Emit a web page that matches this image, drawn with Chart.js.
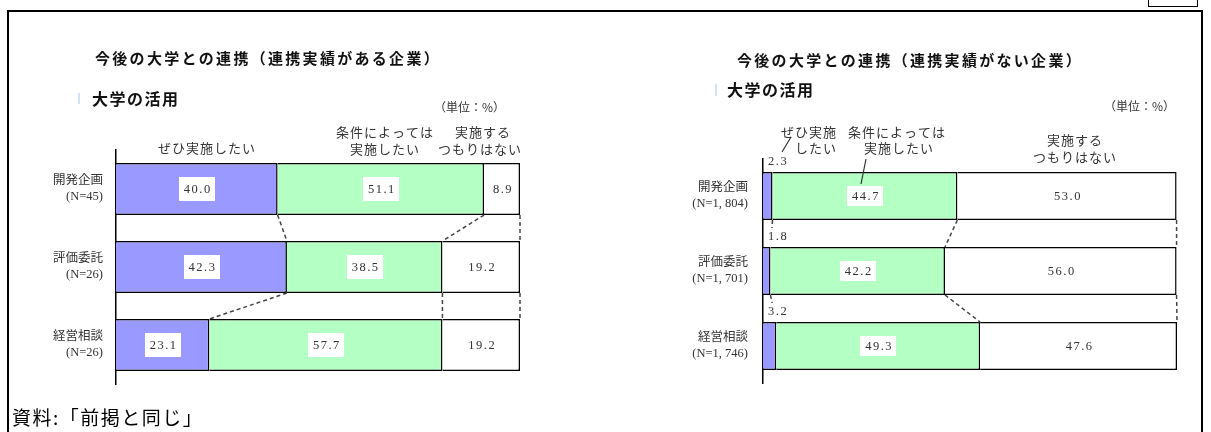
<!DOCTYPE html>
<html lang="ja">
<head>
<meta charset="utf-8">
<script src="https://cdn.jsdelivr.net/npm/chart.js@4.4.1/dist/chart.umd.min.js"></script>
<style>
  html, body { margin: 0; padding: 0; background: #fff; }
  #page { position: relative; width: 1211px; height: 432px; overflow: hidden; background: #fff; }
  #page canvas { position: absolute; top: 0; }
  #cLeft { left: 0; }
  #cRight { left: 600px; }
  .frame { position: absolute; left: 7px; top: 10px; width: 1196px; height: 460px; border: 2px solid #000; box-sizing: border-box; pointer-events: none; }
  .tag { position: absolute; left: 1148px; top: -4px; width: 50px; height: 11px; border: 1.5px solid #000; box-sizing: border-box; }
  .src { position: absolute; left: 12px; top: 405px; font: 19px "Noto Sans CJK JP", sans-serif; letter-spacing: 1.5px; color: #000; line-height: 24px; white-space: nowrap; }
</style>
</head>
<body>
<div id="page">
  <canvas id="cLeft" width="600" height="432"></canvas>
  <canvas id="cRight" width="611" height="432"></canvas>
  <div class="frame"></div>
  <div class="tag"></div>
  <div class="src">資料:「前掲と同じ」</div>
</div>
<script>
// ---- data ----
const seriesNames = ['ぜひ実施したい', '条件によっては実施したい', '実施するつもりはない'];

const leftCategories = [['開発企画', '(N=45)'], ['評価委託', '(N=26)'], ['経営相談', '(N=26)']];
const leftDefinitely = [40.0, 42.3, 23.1];
const leftConditional = [51.1, 38.5, 57.7];
const leftNoPlan = [8.9, 19.2, 19.2];

const rightCategories = [['開発企画', '(N=1, 804)'], ['評価委託', '(N=1, 701)'], ['経営相談', '(N=1, 746)']];
const rightDefinitely = [2.3, 1.8, 3.2];
const rightConditional = [44.7, 42.2, 49.3];
const rightNoPlan = [53.0, 56.0, 47.6];

const segColors = ['#9999ff', '#b3ffc4', '#ffffff'];
const inkColor = '#333';
const jpFont = '"Noto Sans CJK JP", sans-serif';
const numFont = '"Liberation Serif", "Noto Sans CJK JP", serif';

// ---- plugins ----
// Static captions for a panel (coordinates in the canvas' own space)
const panelText = {
  id: 'panelText',
  afterDraw(chart, args, opts) {
    const ctx = chart.ctx;
    ctx.save();
    (opts.lines || []).forEach(l => {
      ctx.beginPath();
      ctx.setLineDash([]);
      ctx.strokeStyle = l.color || '#333';
      ctx.lineWidth = l.width || 1.2;
      ctx.moveTo(l.x1, l.y1);
      ctx.lineTo(l.x2, l.y2);
      ctx.stroke();
    });
    (opts.items || []).forEach(t => {
      ctx.font = t.font;
      ctx.fillStyle = t.color || inkColor;
      ctx.textAlign = t.align || 'left';
      ctx.textBaseline = 'middle';
      ctx.letterSpacing = (t.ls || 0) + 'px';
      ctx.fillText(t.text, t.x, t.y);
    });
    ctx.restore();
  }
};

// Dashed links between stacked bars and the value boxes on each segment
const segLabels = {
  id: 'segLabels',
  afterDatasetsDraw(chart, args, opts) {
    const ctx = chart.ctx;
    const n = chart.data.labels.length;
    const metas = chart.data.datasets.map((d, i) => chart.getDatasetMeta(i));
    ctx.save();
    ctx.setLineDash([4, 3]);
    ctx.strokeStyle = '#444';
    ctx.lineWidth = 1.5;
    for (let j = 0; j < n - 1; j++) {
      metas.forEach(m => {
        const a = m.data[j], b = m.data[j + 1];
        ctx.beginPath();
        ctx.moveTo(a.x, a.y + a.height / 2);
        ctx.lineTo(b.x, b.y - b.height / 2);
        ctx.stroke();
      });
    }
    ctx.setLineDash([]);
    ctx.font = opts.font;
    ctx.letterSpacing = '1.5px';
    ctx.textBaseline = 'middle';
    chart.data.datasets.forEach((ds, i) => {
      metas[i].data.forEach((el, j) => {
        const v = ds.data[j];
        const txt = v.toFixed(1);
        const w = ctx.measureText(txt).width;
        if (v >= opts.minInside) {
          const cx = (el.x + el.base) / 2, cy = el.y;
          ctx.fillStyle = '#fff';
          ctx.fillRect(Math.round(cx - w / 2 - 4), Math.round(cy - opts.boxH / 2), Math.round(w + 8), opts.boxH);
          ctx.fillStyle = inkColor;
          ctx.textAlign = 'center';
          ctx.fillText(txt, cx + 1, cy + 1);
        } else {
          const tx = el.base + 5, ty = el.y - el.height / 2 - 11;
          ctx.fillStyle = '#fff';
          ctx.fillRect(tx - 2, ty - 8, w + 6, 17);
          ctx.fillStyle = inkColor;
          ctx.textAlign = 'left';
          ctx.fillText(txt, tx, ty + 1);
        }
      });
    });
    ctx.restore();
  }
};

function makeDatasets(values, thickness) {
  return values.map((vals, i) => ({
    label: seriesNames[i],
    data: vals,
    backgroundColor: segColors[i],
    borderColor: '#000',
    borderWidth: { top: 1.5, bottom: 1.5, left: 0, right: 1.5 },
    borderSkipped: false,
    categoryPercentage: 1,
    barPercentage: thickness
  }));
}

function makeChart(canvasId, cfg) {
  const rowSums = cfg.labels.map((_, j) => cfg.values.reduce((s, arr) => s + arr[j], 0));
  const xMax = Math.max(100, ...rowSums);
  return new Chart(document.getElementById(canvasId), {
    type: 'bar',
    data: { labels: cfg.labels, datasets: makeDatasets(cfg.values, cfg.thickness) },
    options: {
      responsive: false,
      animation: false,
      indexAxis: 'y',
      layout: { padding: cfg.padding },
      scales: {
        x: { stacked: true, display: false, min: 0, max: xMax },
        y: {
          stacked: true,
          grid: { display: false, drawTicks: false },
          border: { display: true, color: '#000', width: 1.5 },
          ticks: { padding: cfg.tickPad, color: inkColor, font: { family: numFont, size: 12.5, lineHeight: 1.3 } },
          afterFit(scale) { scale.width = cfg.axisX; }
        }
      },
      plugins: {
        legend: { display: false },
        tooltip: { enabled: false },
        segLabels: { font: '12.5px ' + numFont, minInside: 5, boxH: cfg.boxH },
        panelText: { items: cfg.texts, lines: cfg.lines }
      }
    },
    plugins: [segLabels, panelText]
  });
}

const titleFont = '600 15px ' + jpFont;
const subFont = 'bold 16px ' + jpFont;
const headFont = '13px ' + jpFont;
const unitFont = '12px ' + jpFont;

// left panel: companies with past collaboration
makeChart('cLeft', {
  labels: leftCategories,
  values: [leftDefinitely, leftConditional, leftNoPlan],
  thickness: 0.667,
  padding: { left: 0, right: 80, top: 150, bottom: 48 },
  axisX: 116,
  tickPad: 13,
  boxH: 24,
  texts: [
    { text: '今後の大学との連携（連携実績がある企業）', x: 95, y: 58, font: titleFont, ls: 2.3, color: '#111' },
    { text: '大学の活用', x: 92, y: 99, font: subFont, ls: 1.5, color: '#111' },
    { text: '（単位：%）', x: 505, y: 107, font: unitFont, align: 'right' },
    { text: 'ぜひ実施したい', x: 207, y: 148, font: headFont, ls: 1, align: 'center' },
    { text: '条件によっては', x: 385, y: 132, font: headFont, ls: 1, align: 'center' },
    { text: '実施したい', x: 385, y: 149, font: headFont, ls: 1, align: 'center' },
    { text: '実施する', x: 483, y: 132, font: headFont, ls: 1, align: 'center' },
    { text: 'つもりはない', x: 480, y: 149, font: headFont, ls: 1, align: 'center' }
  ],
  lines: [{ x1: 79, y1: 93, x2: 79, y2: 104, color: '#c4d8ee', width: 1.5 }]
});

// right panel: companies without past collaboration (canvas starts at page x=600)
const ox = 600;
makeChart('cRight', {
  labels: rightCategories,
  values: [rightDefinitely, rightConditional, rightNoPlan],
  thickness: 0.64,
  padding: { left: 0, right: 34, top: 158.5, bottom: 48.5 },
  axisX: 163,
  tickPad: 15,
  boxH: 20,
  texts: [
    { text: '今後の大学との連携（連携実績がない企業）', x: 737 - ox, y: 60, font: titleFont, ls: 2.3, color: '#111' },
    { text: '大学の活用', x: 727 - ox, y: 90, font: subFont, ls: 1.5, color: '#111' },
    { text: '（単位：%）', x: 1175 - ox, y: 106, font: unitFont, align: 'right' },
    { text: 'ぜひ実施', x: 837 - ox, y: 132, font: headFont, ls: 1, align: 'right' },
    { text: 'したい', x: 837 - ox, y: 148, font: headFont, ls: 1, align: 'right' },
    { text: '条件によっては', x: 897 - ox, y: 132, font: headFont, ls: 1, align: 'center' },
    { text: '実施したい', x: 899 - ox, y: 148, font: headFont, ls: 1, align: 'center' },
    { text: '実施する', x: 1075 - ox, y: 140, font: headFont, ls: 1, align: 'center' },
    { text: 'つもりはない', x: 1075 - ox, y: 157, font: headFont, ls: 1, align: 'center' }
  ],
  lines: [
    { x1: 716 - ox, y1: 84, x2: 716 - ox, y2: 96, color: '#c4d8ee', width: 1.5 },
    { x1: 782 - ox, y1: 152, x2: 791 - ox, y2: 137 },
    { x1: 866 - ox, y1: 159, x2: 861 - ox, y2: 184 }
  ]
});
</script>
</body>
</html>
